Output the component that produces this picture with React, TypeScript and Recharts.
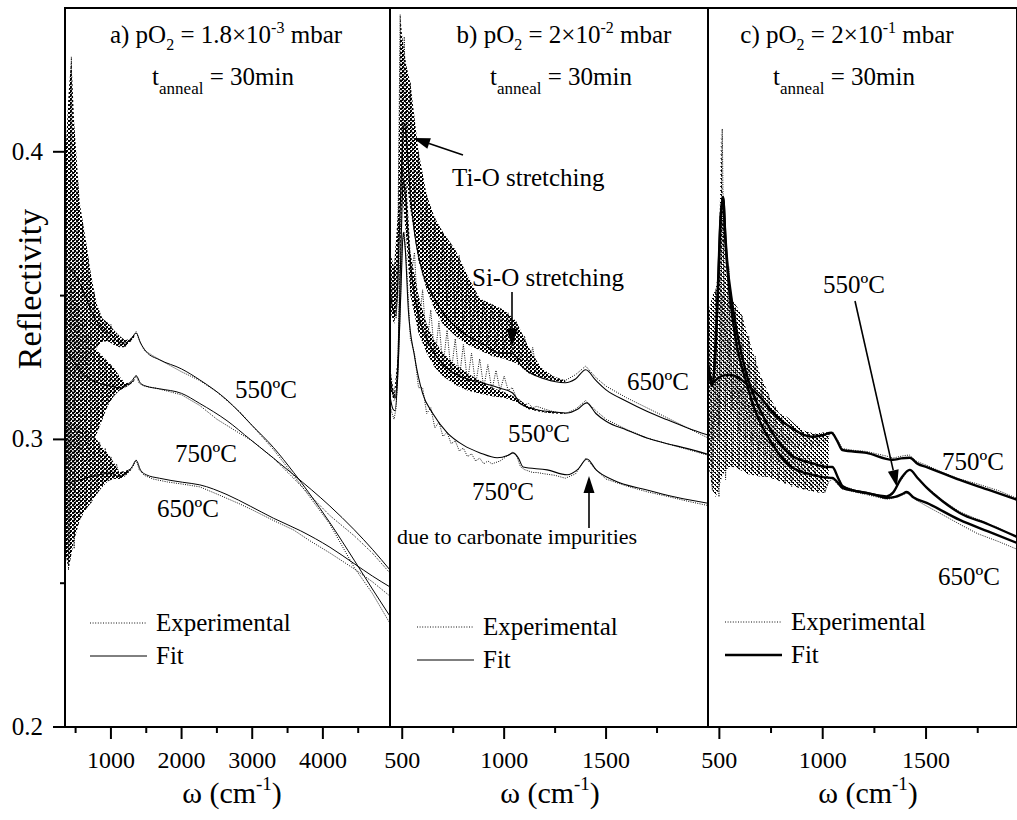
import React from 'react';
import { ComposedChart, Line, Area, XAxis, YAxis, ReferenceArea } from 'recharts';

const SERIF = "'Liberation Serif', 'Times New Roman', Times, serif";

// shared reflectivity axis
const yDomain: [number, number] = [0.2, 0.45];
const yTicks = [0.2, 0.25, 0.3, 0.35, 0.4];

// panel a) pO2 = 1.8e-3 mbar
const aDomain: [number, number] = [350, 4950];
const aTicks = [500, 1000, 1500, 2000, 2500, 3000, 3500, 4000, 4500];
const aExpW = [360, 400, 440, 480, 520, 560, 600, 640, 680, 720, 760, 800, 840, 880, 920, 960, 1000, 1040, 1080, 1120, 1160, 1200, 1240, 1280, 1320,
  1357, 1400, 1471, 1600, 1800, 2000, 2257, 2500, 2829, 3000, 3300, 3586, 3800, 4100, 4443, 4700, 4950];
const aExp550 = [0.40, 0.29, 0.433, 0.31, 0.39, 0.32, 0.375, 0.325, 0.363, 0.329, 0.351, 0.332, 0.344, 0.334, 0.341, 0.334, 0.340, 0.333, 0.337, 0.332, 0.335, 0.332, 0.3345, 0.334, 0.336,
  0.3375, 0.3345, 0.331, 0.329, 0.3262, 0.3235, 0.3205, 0.3165, 0.3095, 0.3048, 0.2965, 0.2875, 0.2805, 0.2705, 0.2555, 0.2465, 0.236];
const aExp750 = [0.37, 0.258, 0.355, 0.28, 0.348, 0.295, 0.342, 0.298, 0.337, 0.300, 0.333, 0.303, 0.330, 0.307, 0.328, 0.312, 0.326, 0.315, 0.3225, 0.317, 0.3195, 0.318, 0.3195, 0.3195, 0.3205,
  0.3222, 0.3195, 0.3185, 0.318, 0.3168, 0.3155, 0.3118, 0.307, 0.302, 0.2995, 0.2935, 0.2865, 0.281, 0.2735, 0.2665, 0.2605, 0.2535];
const aExp650 = [0.31, 0.2546, 0.306, 0.262, 0.305, 0.272, 0.304, 0.2755, 0.303, 0.278, 0.301, 0.281, 0.299, 0.2835, 0.297, 0.2855, 0.294, 0.2865, 0.2915, 0.2866, 0.289, 0.2875, 0.289, 0.2895, 0.291,
  0.2929, 0.2895, 0.2875, 0.2862, 0.2852, 0.2845, 0.2835, 0.281, 0.2775, 0.2755, 0.2718, 0.2685, 0.265, 0.2605, 0.255, 0.2505, 0.2455];
const aFit550: [number, number][] = [[400, 0.36], [500, 0.357], [600, 0.352], [700, 0.346], [800, 0.341], [900, 0.338], [1000, 0.3365], [1100, 0.334], [1200, 0.3335], [1300, 0.3355], [1357, 0.337], [1420, 0.3335], [1500, 0.3305], [1686, 0.3277], [2000, 0.3245], [2257, 0.3207], [2643, 0.3137], [3000, 0.3048], [3300, 0.2972], [3586, 0.2885], [3800, 0.2815], [4100, 0.271], [4443, 0.258], [4700, 0.248], [4950, 0.2385]];
const aFit750: [number, number][] = [[400, 0.33], [500, 0.326], [600, 0.323], [700, 0.321], [800, 0.3198], [900, 0.319], [1000, 0.3185], [1100, 0.318], [1200, 0.3185], [1300, 0.3205], [1357, 0.3221], [1420, 0.3195], [1500, 0.3185], [1686, 0.3176], [2000, 0.316], [2257, 0.3125], [2643, 0.3065], [2971, 0.3], [3300, 0.2935], [3586, 0.2877], [4100, 0.2768], [4443, 0.2686], [4700, 0.2618], [4950, 0.2546]];
const aFit650: [number, number][] = [[400, 0.285], [500, 0.2855], [600, 0.2862], [700, 0.287], [800, 0.2876], [900, 0.288], [1000, 0.2882], [1100, 0.2872], [1200, 0.2878], [1300, 0.2905], [1357, 0.2927], [1420, 0.2893], [1500, 0.2877], [1686, 0.2865], [2014, 0.2851], [2257, 0.2842], [2643, 0.2808], [2971, 0.2768], [3300, 0.2726], [3686, 0.2682], [4100, 0.2625], [4443, 0.2568], [4700, 0.2525], [4950, 0.2487]];
// envelopes of the fringe-noise bands (low / high)
const aBandW = [360, 400, 440, 480, 560, 640, 720, 800, 880, 960, 1040, 1120, 1200, 1280, 1330];
const aBand550Hi = [0.40, 0.42, 0.433, 0.41, 0.382, 0.37, 0.357, 0.347, 0.342, 0.3405, 0.338, 0.336, 0.3345, 0.335, 0.3365];
const aBand550Lo = [0.30, 0.29, 0.30, 0.31, 0.32, 0.325, 0.329, 0.332, 0.334, 0.334, 0.333, 0.332, 0.332, 0.334, 0.3355];
const aBand750Hi = [0.37, 0.36, 0.355, 0.35, 0.345, 0.34, 0.335, 0.331, 0.329, 0.327, 0.325, 0.322, 0.3195, 0.3198, 0.3207];
const aBand750Lo = [0.27, 0.258, 0.27, 0.282, 0.293, 0.297, 0.299, 0.302, 0.307, 0.312, 0.315, 0.317, 0.318, 0.3193, 0.3203];
const aBand650Hi = [0.31, 0.305, 0.306, 0.305, 0.305, 0.304, 0.302, 0.300, 0.297, 0.295, 0.292, 0.2885, 0.289, 0.2898, 0.2913];
const aBand650Lo = [0.26, 0.2546, 0.26, 0.265, 0.272, 0.2755, 0.278, 0.281, 0.2835, 0.2855, 0.2862, 0.2862, 0.2872, 0.2892, 0.2908];

// panel b) pO2 = 2e-2 mbar
const bDomain: [number, number] = [440, 2000];
const bTicks = [500, 750, 1000, 1250, 1500, 1750];
const bExpW = [440, 450, 460, 470, 480, 490, 500, 510, 520, 540, 560, 580, 600, 620, 640, 660, 680, 700, 720, 740, 760, 780, 800, 820, 840, 860, 880, 900, 920, 940, 960, 980,
  1000, 1020, 1040, 1060, 1080, 1100, 1120, 1140, 1160, 1200, 1250, 1300, 1350, 1400, 1450, 1500, 1600, 1700, 1800, 1900, 2000];
const bExp650 = [0.365, 0.348, 0.36, 0.342, 0.38, 0.4477, 0.39, 0.44, 0.40,
  0.424, 0.38, 0.40, 0.365, 0.385, 0.356, 0.377, 0.35, 0.372, 0.346, 0.368, 0.342, 0.364, 0.339, 0.356, 0.337, 0.351, 0.335, 0.348, 0.333, 0.347, 0.332, 0.345, 0.331, 0.344, 0.330, 0.341, 0.327, 0.336, 0.325, 0.332, 0.323,
  0.3225, 0.321, 0.3205, 0.3225, 0.3255, 0.3215, 0.3185, 0.3145, 0.311, 0.3075, 0.304, 0.3005];
const bExp550 = [0.325, 0.318, 0.316, 0.314, 0.33, 0.37, 0.40, 0.39, 0.385,
  0.355, 0.365, 0.338, 0.352, 0.332, 0.345, 0.328, 0.341, 0.325, 0.338, 0.323, 0.335, 0.321, 0.333, 0.320, 0.330, 0.319, 0.328, 0.318, 0.326, 0.317, 0.324, 0.317, 0.322, 0.317, 0.318, 0.3145, 0.3135, 0.312, 0.3125, 0.311, 0.3115,
  0.3105, 0.3095, 0.309, 0.3105, 0.3135, 0.31, 0.307, 0.3035, 0.3005, 0.2985, 0.2965, 0.2945];
const bExp750 = [0.312, 0.309, 0.307, 0.311, 0.325, 0.345, 0.368, 0.372, 0.362,
  0.335, 0.33, 0.318, 0.318, 0.309, 0.311, 0.304, 0.306, 0.301, 0.3025, 0.2985, 0.2995, 0.296, 0.297, 0.294, 0.295, 0.2925, 0.2935, 0.2915, 0.2925, 0.2915, 0.292, 0.2925, 0.2935, 0.2945, 0.2955, 0.2945, 0.2905, 0.2895, 0.289, 0.2885, 0.2885,
  0.288, 0.2875, 0.2865, 0.288, 0.2935, 0.2895, 0.2862, 0.2838, 0.2818, 0.2802, 0.2785, 0.277];
const bFit650: [number, number][] = [[440, 0.352], [455, 0.345], [470, 0.343], [485, 0.37], [500, 0.40], [510, 0.41], [520, 0.405], [540, 0.385], [560, 0.372], [600, 0.358], [650, 0.35], [700, 0.344], [800, 0.337], [900, 0.333], [980, 0.330], [1030, 0.330], [1050, 0.3295], [1080, 0.326], [1120, 0.3235], [1200, 0.321], [1300, 0.3197], [1350, 0.321], [1400, 0.3242], [1450, 0.3205], [1500, 0.3172], [1600, 0.3133], [1700, 0.3098], [1800, 0.3068], [1900, 0.304], [2000, 0.3015]];
const bFit550: [number, number][] = [[440, 0.322], [455, 0.3155], [465, 0.3145], [480, 0.33], [495, 0.37], [505, 0.39], [515, 0.385], [530, 0.37], [550, 0.355], [580, 0.343], [620, 0.335], [700, 0.326], [800, 0.3215], [900, 0.3195], [980, 0.3178], [1040, 0.3162], [1080, 0.3125], [1150, 0.3105], [1250, 0.3095], [1310, 0.3092], [1360, 0.3105], [1405, 0.3127], [1450, 0.309], [1500, 0.3063], [1600, 0.3033], [1700, 0.3005], [1800, 0.2985], [1900, 0.2968], [2000, 0.2948]];
const bFit750: [number, number][] = [[440, 0.315], [455, 0.3105], [465, 0.31], [480, 0.325], [495, 0.355], [505, 0.372], [515, 0.366], [530, 0.345], [560, 0.329], [600, 0.316], [650, 0.309], [721, 0.3023], [800, 0.298], [882, 0.2953], [966, 0.2936], [1020, 0.2945], [1044, 0.2953], [1070, 0.2935], [1093, 0.2904], [1211, 0.2894], [1309, 0.2877], [1360, 0.2895], [1407, 0.2932], [1450, 0.2895], [1534, 0.2859], [1701, 0.2824], [1850, 0.2798], [2000, 0.2778]];
const bBandW = [440, 460, 480, 490, 500, 520, 540, 580, 620, 660, 700, 760, 820, 880, 940, 1000, 1060, 1120, 1180, 1240, 1300];
const bBand650Hi = [0.365, 0.36, 0.38, 0.4477, 0.44, 0.43, 0.424, 0.40, 0.385, 0.377, 0.372, 0.366, 0.357, 0.349, 0.347, 0.345, 0.341, 0.332, 0.325, 0.322, 0.3205];
const bBand650Lo = [0.345, 0.34, 0.35, 0.38, 0.39, 0.39, 0.38, 0.362, 0.352, 0.345, 0.34, 0.336, 0.333, 0.331, 0.329, 0.328, 0.3265, 0.323, 0.3215, 0.3205, 0.3197];
const bBand550Hi = [0.325, 0.316, 0.33, 0.37, 0.40, 0.39, 0.365, 0.35, 0.34, 0.334, 0.33, 0.326, 0.323, 0.3205, 0.318, 0.3165, 0.3145, 0.3115, 0.310, 0.3095, 0.309];
const bBand550Lo = [0.318, 0.313, 0.325, 0.36, 0.385, 0.37, 0.35, 0.337, 0.33, 0.325, 0.322, 0.319, 0.317, 0.316, 0.315, 0.3145, 0.313, 0.3105, 0.3095, 0.309, 0.3088];

// panel c) pO2 = 2e-1 mbar
const cDomain: [number, number] = [445, 1940];
const cTicks = [500, 750, 1000, 1250, 1500, 1750];
const cExpW = [450, 466, 482, 498, 514, 530, 546, 562, 578, 594, 610, 626, 642, 658, 674, 690, 706, 722, 738, 754, 770, 786, 802, 818, 834, 850, 866, 882, 898, 914, 930, 946, 962, 978, 994, 1010,
  1030, 1050, 1070, 1095, 1150, 1212, 1260, 1309, 1340, 1370, 1406, 1421, 1450, 1503, 1580, 1663, 1750, 1850, 1940];
const cExp750 = [0.345, 0.30, 0.352, 0.305, 0.408, 0.31, 0.352, 0.312, 0.346, 0.312, 0.343, 0.31, 0.336, 0.308, 0.329, 0.306, 0.321, 0.303, 0.316, 0.301, 0.3115, 0.299, 0.3078, 0.298, 0.305, 0.2975, 0.3035, 0.297, 0.303, 0.297, 0.3025, 0.297, 0.302, 0.2975, 0.302, 0.299,
  0.3015, 0.3025, 0.3, 0.2968, 0.2962, 0.2958, 0.295, 0.2942, 0.2935, 0.294, 0.2945, 0.2945, 0.2925, 0.291, 0.2885, 0.2862, 0.2845, 0.2822, 0.2795];
const cExp550 = [0.33, 0.29, 0.335, 0.30, 0.38, 0.33, 0.36, 0.31, 0.34, 0.302, 0.333, 0.30, 0.327, 0.298, 0.322, 0.296, 0.317, 0.294, 0.312, 0.293, 0.308, 0.292, 0.304, 0.291, 0.301, 0.2905, 0.2985, 0.29, 0.2965, 0.2895, 0.295, 0.2895, 0.2935, 0.2895, 0.2925, 0.290,
  0.2905, 0.2905, 0.2875, 0.2838, 0.2825, 0.2812, 0.2805, 0.2795, 0.281, 0.285, 0.2885, 0.2895, 0.2875, 0.2835, 0.2788, 0.2748, 0.2722, 0.2692, 0.2658];
const cExp650 = [0.31, 0.2824, 0.32, 0.28, 0.35, 0.286, 0.335, 0.2904, 0.325, 0.29, 0.318, 0.289, 0.313, 0.289, 0.309, 0.288, 0.305, 0.287, 0.302, 0.287, 0.299, 0.286, 0.297, 0.2845, 0.295, 0.2835, 0.293, 0.283, 0.2915, 0.2825, 0.2905, 0.282, 0.2895, 0.2815, 0.2885, 0.2815,
  0.2855, 0.2862, 0.2845, 0.2828, 0.2818, 0.2808, 0.28, 0.2792, 0.2795, 0.2805, 0.2812, 0.281, 0.279, 0.2768, 0.2738, 0.2705, 0.2672, 0.2645, 0.2618];
const cFit750: [number, number][] = [[445, 0.326], [455, 0.322], [465, 0.3195], [480, 0.3205], [510, 0.322], [550, 0.3225], [586, 0.3217], [650, 0.318], [700, 0.3145], [751, 0.31], [800, 0.3065], [860, 0.3035], [911, 0.3015], [950, 0.3009], [1000, 0.3015], [1042, 0.3023], [1070, 0.2995], [1095, 0.2963], [1212, 0.2953], [1338, 0.2929], [1380, 0.2934], [1421, 0.2936], [1460, 0.2915], [1503, 0.2904], [1663, 0.2859], [1800, 0.2825], [1940, 0.279]];
const cFit550: [number, number][] = [[445, 0.326], [455, 0.322], [465, 0.3195], [480, 0.33], [495, 0.355], [505, 0.375], [518, 0.3843], [528, 0.372], [540, 0.36], [557, 0.35], [586, 0.337], [630, 0.323], [668, 0.315], [751, 0.303], [848, 0.2945], [960, 0.2915], [1010, 0.2905], [1047, 0.2904], [1075, 0.2865], [1095, 0.2838], [1150, 0.2822], [1212, 0.2814], [1260, 0.2806], [1309, 0.2802], [1340, 0.2815], [1380, 0.2865], [1421, 0.2894], [1460, 0.2865], [1503, 0.2832], [1580, 0.2785], [1663, 0.2744], [1800, 0.2705], [1940, 0.2661]];
const cFit650: [number, number][] = [[445, 0.325], [455, 0.321], [465, 0.3185], [480, 0.33], [495, 0.357], [505, 0.376], [518, 0.384], [530, 0.368], [557, 0.346], [586, 0.332], [630, 0.32], [668, 0.311], [751, 0.299], [848, 0.2905], [960, 0.2875], [1010, 0.2868], [1047, 0.2866], [1075, 0.2848], [1095, 0.2831], [1150, 0.2822], [1212, 0.2814], [1260, 0.2806], [1309, 0.2797], [1350, 0.28], [1385, 0.281], [1406, 0.2817], [1440, 0.2798], [1503, 0.2779], [1663, 0.272], [1800, 0.268], [1940, 0.264]];
const cBandW = [450, 466, 482, 498, 508, 518, 530, 546, 566, 586, 610, 634, 668, 700, 731, 751, 790, 828, 870, 911, 960, 1010, 1030];
const cBandHi = [0.345, 0.35, 0.352, 0.36, 0.408, 0.38, 0.36, 0.352, 0.348, 0.346, 0.343, 0.337, 0.329, 0.322, 0.317, 0.3137, 0.309, 0.3078, 0.305, 0.303, 0.302, 0.3025, 0.3025];
const cBandLo = [0.29, 0.2824, 0.28, 0.283, 0.286, 0.288, 0.289, 0.2904, 0.2904, 0.29, 0.289, 0.288, 0.2875, 0.287, 0.287, 0.2865, 0.2855, 0.2845, 0.2835, 0.2825, 0.2818, 0.2814, 0.2855];

type Row = Record<string, number | number[]>;

function rows(w: number[], cols: Record<string, number[]>): Row[] {
  return w.map((x, i) => {
    const r: Row = { w: x };
    for (const k of Object.keys(cols)) r[k] = cols[k][i];
    return r;
  });
}

function pairs(key: string, pts: [number, number][]): Row[] {
  return pts.map(([x, y]) => ({ w: x, [key]: y }));
}

function bands(w: number[], cols: Record<string, [number[], number[]]>): Row[] {
  return w.map((x, i) => {
    const r: Row = { w: x };
    for (const k of Object.keys(cols)) r[k] = [cols[k][0][i], cols[k][1][i]];
    return r;
  });
}

function panelData(w: number[], e550: number[], e750: number[], e650: number[],
  f550: [number, number][], f750: [number, number][], f650: [number, number][], band: Row[]) {
  return [
    ...band,
    ...rows(w, { e550, e750, e650 }),
    ...pairs('f550', f550),
    ...pairs('f750', f750),
    ...pairs('f650', f650),
  ].sort((p, q) => (p.w as number) - (q.w as number));
}

const aData = panelData(aExpW, aExp550, aExp750, aExp650, aFit550, aFit750, aFit650,
  bands(aBandW, { b1: [aBand550Lo, aBand550Hi], b2: [aBand750Lo, aBand750Hi], b3: [aBand650Lo, aBand650Hi] }));
const bData = panelData(bExpW, bExp550, bExp750, bExp650, bFit550, bFit750, bFit650,
  bands(bBandW, { b1: [bBand650Lo, bBand650Hi], b2: [bBand550Lo, bBand550Hi] }));
const cData = panelData(cExpW, cExp550, cExp750, cExp650, cFit550, cFit750, cFit650,
  bands(cBandW, { b1: [cBandLo, cBandHi] }));

const makeXTick = (step: number) => (props: any) => {
  const { x, y, payload } = props;
  const v = payload.value as number;
  const major = v % step === 0;
  return (
    <g>
      <line x1={x} x2={x} y1={y} y2={y + (major ? 12 : 6)} stroke="#000" strokeWidth={2} />
      {major && (
        <text x={x} y={y + 41} textAnchor="middle" fontSize={24} fontFamily={SERIF} fill="#000">{v}</text>
      )}
    </g>
  );
};

const YTick = (props: any) => {
  const { x, y, payload } = props;
  const v = payload.value as number;
  const major = Math.abs(v * 10 - Math.round(v * 10)) < 1e-6;
  return (
    <g>
      <line x1={x - (major ? 12 : 5)} x2={x} y1={y} y2={y} stroke="#000" strokeWidth={2} />
      {major && (
        <text x={x - 22} y={y + 8} textAnchor="end" fontSize={25} fontFamily={SERIF} fill="#000">{v.toFixed(1)}</text>
      )}
    </g>
  );
};

interface PanelProps {
  left: number;
  width: number;
  padLeft: number;
  showY: boolean;
  domain: [number, number];
  ticks: number[];
  step: number;
  data: Row[];
  fitWidth: number;
  bandKeys: string[];
  bandFill: string;
}

function Panel({ left, width, padLeft, showY, domain, ticks, step, data, fitWidth, bandKeys, bandFill }: PanelProps) {
  const exp = { stroke: '#111', strokeWidth: 1, strokeDasharray: '1 1.3', dot: false, activeDot: false, isAnimationActive: false, connectNulls: true, type: 'linear' as const };
  const fit = { stroke: '#000', strokeWidth: fitWidth, dot: false, activeDot: false, isAnimationActive: false, connectNulls: true, type: 'monotone' as const };
  return (
    <div style={{ position: 'absolute', left, top: 0 }}>
      <ComposedChart width={width} height={820} data={data} margin={{ top: 8, right: 0, bottom: 0, left: padLeft }}>
        <XAxis type="number" dataKey="w" domain={domain} allowDataOverflow ticks={ticks} interval={0}
          tickSize={0} tickMargin={0} axisLine={false} tickLine={false} height={93} tick={makeXTick(step)} />
        <YAxis type="number" domain={yDomain} allowDataOverflow ticks={yTicks} interval={0} hide={!showY}
          width={showY ? 65 : 0} tickSize={0} tickMargin={0} axisLine={false} tickLine={false} tick={YTick} />
        {bandKeys.map((k) => (
          <Area key={k} dataKey={k} type="linear" stroke="none" fill={bandFill} fillOpacity={1}
            connectNulls dot={false} activeDot={false} isAnimationActive={false} />
        ))}
        <Line dataKey="e550" {...exp} />
        <Line dataKey="e750" {...exp} />
        <Line dataKey="e650" {...exp} />
        <Line dataKey="f550" {...fit} />
        <Line dataKey="f750" {...fit} />
        <Line dataKey="f650" {...fit} />
        <ReferenceArea x1={domain[0]} x2={domain[1]} y1={yDomain[0]} y2={yDomain[1]} fill="none" fillOpacity={0} stroke="#000" strokeWidth={2} />
      </ComposedChart>
    </div>
  );
}

function Arrow({ x1, y1, x2, y2 }: { x1: number; y1: number; x2: number; y2: number }) {
  const dx = x2 - x1;
  const dy = y2 - y1;
  const len = Math.hypot(dx, dy);
  const ux = dx / len;
  const uy = dy / len;
  const hl = 17;
  const hw = 5.5;
  const bx = x2 - ux * hl;
  const by = y2 - uy * hl;
  return (
    <g>
      <line x1={x1} y1={y1} x2={bx} y2={by} stroke="#000" strokeWidth={1.6} />
      <polygon points={`${x2},${y2} ${bx - uy * hw},${by + ux * hw} ${bx + uy * hw},${by - ux * hw}`} fill="#000" />
    </g>
  );
}

function Title({ cx, label, mant, exp }: { cx: number; label: string; mant: string; exp: string }) {
  return (
    <g>
      <text x={cx} y={43} textAnchor="middle" fontSize={25}>
        {label} pO<tspan dy={7} fontSize={16}>2</tspan>
        <tspan dy={-7}>{` = ${mant}×10`}</tspan>
        <tspan dy={-10} fontSize={16}>{exp}</tspan>
        <tspan dy={10}> mbar</tspan>
      </text>
      <text x={cx - 3} y={85} textAnchor="middle" fontSize={25}>
        t<tspan dy={9} fontSize={17}>anneal</tspan>
        <tspan dy={-9}> = 30min</tspan>
      </text>
    </g>
  );
}

function OmegaLabel({ cx }: { cx: number }) {
  return (
    <text x={cx} y={803} textAnchor="middle" fontSize={30}>
      ω (cm<tspan dy={-13} fontSize={19}>-1</tspan>
      <tspan dy={13}>)</tspan>
    </text>
  );
}

function LegendBox({ x, y, thick }: { x: number; y: number; thick: number }) {
  return (
    <g>
      <line x1={x} x2={x + 57} y1={y} y2={y} stroke="#111" strokeWidth={1} strokeDasharray="1 1.6" />
      <text x={x + 66} y={y + 8} fontSize={25}>Experimental</text>
      <line x1={x} x2={x + 57} y1={y + 33} y2={y + 33} stroke="#000" strokeWidth={thick} />
      <text x={x + 66} y={y + 41} fontSize={25}>Fit</text>
    </g>
  );
}

export default function App() {
  return (
    <div style={{ position: 'absolute', left: 0, top: 0, width: 1017, height: 820, background: '#fff', overflow: 'hidden', fontFamily: SERIF }}>
      <svg width={0} height={0} style={{ position: 'absolute', left: 0, top: 0 }}>
        <defs>
          <pattern id="noiseDark" width={4} height={4} patternUnits="userSpaceOnUse">
            <rect x={0} y={0} width={2} height={2} fill="#000" />
            <rect x={2} y={2} width={2} height={2} fill="#000" />
            <rect x={2} y={0} width={1} height={1} fill="#000" />
          </pattern>
          <pattern id="noiseLight" width={4} height={4} patternUnits="userSpaceOnUse">
            <rect x={0} y={0} width={2} height={1} fill="#000" />
            <rect x={2} y={2} width={2} height={1} fill="#000" />
            <rect x={1} y={1} width={1} height={1} fill="#000" />
            <rect x={3} y={3} width={1} height={1} fill="#000" />
          </pattern>
        </defs>
      </svg>
      <Panel left={0} width={390} padLeft={0} showY domain={aDomain} ticks={aTicks} step={1000} data={aData} fitWidth={1}
        bandKeys={['b1', 'b2', 'b3']} bandFill="url(#noiseDark)" />
      <Panel left={360} width={348} padLeft={30} showY={false} domain={bDomain} ticks={bTicks} step={500} data={bData} fitWidth={1.1}
        bandKeys={['b1', 'b2']} bandFill="url(#noiseDark)" />
      <Panel left={678} width={339} padLeft={30} showY={false} domain={cDomain} ticks={cTicks} step={500} data={cData} fitWidth={2.4}
        bandKeys={['b1']} bandFill="url(#noiseLight)" />
      <svg width={1017} height={820} style={{ position: 'absolute', left: 0, top: 0, pointerEvents: 'none' }}
        fontFamily={SERIF} fill="#000">
        <text transform="translate(41, 289) rotate(-90)" textAnchor="middle" fontSize={34}>Reflectivity</text>

        <Title cx={226} label="a)" mant="1.8" exp="-3" />
        <Title cx={564} label="b)" mant="2" exp="-2" />
        <Title cx={847} label="c)" mant="2" exp="-1" />

        <OmegaLabel cx={232} />
        <OmegaLabel cx={550} />
        <OmegaLabel cx={868} />

        <LegendBox x={90} y={623} thick={1} />
        <LegendBox x={417} y={627} thick={1.1} />
        <LegendBox x={725} y={622} thick={2.4} />

        {/* panel a labels */}
        <text x={235} y={398} fontSize={25}>550ºC</text>
        <text x={175} y={462} fontSize={25}>750ºC</text>
        <text x={157} y={517} fontSize={25}>650ºC</text>

        {/* panel b labels */}
        <text x={452} y={186} fontSize={25}>Ti-O stretching</text>
        <Arrow x1={463} y1={155} x2={413} y2={138} />
        <text x={472} y={286} fontSize={25}>Si-O stretching</text>
        <Arrow x1={512} y1={292} x2={512} y2={346} />
        <text x={627} y={390} fontSize={25}>650ºC</text>
        <text x={508} y={442} fontSize={25}>550ºC</text>
        <text x={472} y={500} fontSize={25}>750ºC</text>
        <Arrow x1={589} y1={528} x2={589} y2={476} />
        <text x={397} y={544} fontSize={22}>due to carbonate impurities</text>

        {/* panel c labels */}
        <text x={823} y={293} fontSize={25}>550ºC</text>
        <Arrow x1={855} y1={301} x2={897} y2={487} />
        <text x={942} y={470} fontSize={25}>750ºC</text>
        <text x={938} y={585} fontSize={25}>650ºC</text>
      </svg>
    </div>
  );
}
